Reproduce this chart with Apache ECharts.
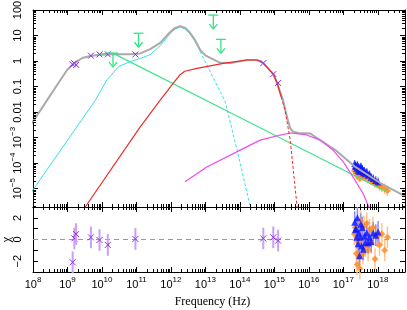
<!DOCTYPE html>
<html><head><meta charset="utf-8">
<script src="https://cdn.jsdelivr.net/npm/echarts@6/dist/echarts.min.js"></script>
<style>html,body{margin:0;padding:0;background:#fff}#c{width:407px;height:310px}</style>
</head><body><div id="c"></div>
<script>
// ===== DATA (log10 frequency in Hz, log10 flux density in mJy, chi residuals) =====
// axis ranges
const nuRange = [8, 18.79];
const fluxRange = [-5.72, 2];
const chiRange = [-3, 3];

// total model (grey)
const totalNu = [7.9, 8.01, 8.41, 8.79, 8.99, 9.20, 9.43, 9.66, 9.95, 10.39, 10.82, 11.11, 11.40, 11.69, 11.98, 12.12, 12.27, 12.42, 12.56, 12.71, 12.85, 13.00, 13.14, 13.43, 13.72, 14.21, 14.50, 14.67, 14.97, 15.08, 15.25, 15.38, 15.46, 15.54, 15.70, 16.04, 16.77, 17.35, 18.07, 18.79];
const totalF  = [-2.57, -2.35, -1.53, -0.75, -0.35, -0.08, 0.12, 0.20, 0.25, 0.27, 0.27, 0.30, 0.47, 0.71, 1.14, 1.30, 1.37, 1.30, 1.10, 0.80, 0.43, 0.22, 0.12, -0.07, -0.08, 0.04, 0.04, -0.07, -0.51, -0.86, -1.53, -2.25, -2.63, -2.77, -2.82, -2.84, -3.49, -4.15, -4.78, -5.29];

// cyan component (rising part solid, falling part dashed)
const cyanNu = [7.9, 8.01, 9.81, 10.14, 10.48, 10.82, 11.11, 11.40, 11.69, 11.98, 12.12, 12.27, 12.42, 12.56, 12.71, 12.85];
const cyanF  = [-5.25, -5.03, -1.53, -0.75, -0.22, -0.02, 0.10, 0.25, 0.60, 1.08, 1.25, 1.33, 1.25, 1.05, 0.75, 0.38];
const cyanTailNu = [12.85, 13.00, 13.29, 13.57, 13.92, 14.30, 14.40];
const cyanTailF  = [0.38, -0.04, -0.82, -1.57, -3.49, -5.71, -6.30];

// green power-law component
const greenNu = [9.95, 10.15, 10.33, 14.00, 18.25];
const greenF  = [0.26, 0.31, 0.30, -2.21, -5.12];

// red component (solid, then dashed cut-off)
const redNu = [9.40, 9.52, 11.11, 11.69, 12.07, 12.25, 12.40, 12.76, 13.52, 14.21, 14.50, 14.67, 14.97, 15.08, 15.20];
const redF  = [-5.95, -5.71, -2.58, -1.53, -0.87, -0.56, -0.40, -0.29, -0.09, 0.04, 0.04, -0.07, -0.51, -0.86, -1.41];
const redTailNu = [15.20, 15.31, 15.46, 15.66, 15.75];
const redTailF  = [-1.41, -1.92, -3.10, -5.71, -6.30];

// magenta component
const magNu = [12.41, 13.04, 14.01, 14.59, 15.17, 15.46, 15.90, 16.33, 16.70, 17.00, 17.28, 17.57, 17.78, 17.85];
const magF  = [-4.73, -4.15, -3.49, -3.10, -2.90, -2.82, -2.88, -3.10, -3.49, -3.95, -4.54, -5.18, -5.84, -6.10];

// radio + optical detections (purple crosses)
const detNu  = [9.15, 9.20, 9.25, 9.68, 9.93, 10.17, 10.97, 14.68, 14.97, 15.11];
const detF   = [-0.13, -0.09, -0.15, 0.21, 0.26, 0.26, 0.26, -0.08, -0.51, -0.86];
const detErr = [0.05, 0.04, 0.04, 0.03, 0.03, 0.03, 0.03, 0.03, 0.03, 0.03];
const detChi = [-2.1, 0.1, 0.5, 0.2, -0.05, -0.5, 0.05, 0.1, 0.2, -0.1];

// upper limits
const ulNu = [10.32, 11.06, 13.23, 13.45];
const ulF  = [0.31, 1.09, 1.80, 0.85];

// X-ray data: blue triangles
const blueNu  = [17.33, 17.35, 17.37, 17.39, 17.41, 17.43, 17.45, 17.47, 17.49, 17.51, 17.53, 17.55, 17.58, 17.61, 17.64, 17.68, 17.72, 17.76, 17.81, 17.87, 17.94, 18.01];
const blueF   = [-4.02, -4.10, -4.12, -4.20, -4.06, -4.28, -4.15, -4.33, -4.20, -4.12, -4.30, -4.20, -4.38, -4.28, -4.42, -4.34, -4.48, -4.44, -4.55, -4.60, -4.68, -4.74];
const blueErr = [0.14, 0.14, 0.13, 0.13, 0.14, 0.13, 0.13, 0.14, 0.13, 0.13, 0.13, 0.13, 0.14, 0.13, 0.14, 0.14, 0.14, 0.15, 0.15, 0.16, 0.17, 0.18];
const blueChi = [1.6, 0.9, 1.0, 0.2, 2.0, -0.4, 0.6, -1.5, 0.2, 1.4, -0.6, 1.1, -0.9, 0.3, -0.3, 0.6, -0.3, 0.2, -0.2, 0.6, 0.4, 0.7];

// X-ray data: orange diamonds
const orNu  = [17.32, 17.35, 17.38, 17.40, 17.43, 17.46, 17.48, 17.50, 17.53, 17.57, 17.60, 17.64, 17.68, 17.72, 17.76, 17.81, 17.86, 17.92, 17.98, 18.05, 18.12, 18.20, 18.28];
const orF   = [-4.30, -4.25, -4.40, -4.50, -4.35, -4.45, -4.60, -4.32, -4.45, -4.55, -4.42, -4.55, -4.50, -4.62, -4.58, -4.70, -4.72, -4.80, -4.82, -4.90, -4.95, -5.00, -5.08];
const orErr = [0.14, 0.14, 0.14, 0.15, 0.14, 0.14, 0.15, 0.14, 0.14, 0.15, 0.14, 0.15, 0.15, 0.15, 0.15, 0.16, 0.16, 0.17, 0.17, 0.18, 0.19, 0.20, 0.21];
const orChi = [0.5, 1.1, -1.3, -2.3, -0.2, -1.6, -2.7, 1.7, 0.0, -1.3, 1.2, -0.6, 1.5, -1.0, 0.9, -0.3, 1.1, -1.8, 0.3, -0.5, 0.5, -1.0, 0.2];

// tick labels
const fluxTickLabels = {'2':'100','1':'10','0':'1','-1':'0.1','-2':'0.01','-3':'10{s|\u22123}','-4':'10{s|\u22124}','-5':'10{s|\u22125}'};
const chiTickLabels = {'2':'2','0':'0','-2':'\u22122'};

// ===== BUILD =====
const C = {
  grey:'#aaaaaa', cyan:'#33e3e3', green:'#3fe38c', red:'#ee2b2b', mag:'#ee4cee',
  ul:'#35e383', purple:'#8f2ff0', purpleErr:'#c9a0f3',
  blue:'#0a14ff', blueErr:'#8c8cff', orange:'#ff8a1c', orangeErr:'#ffc18c'
};
const SANS = 'Liberation Sans', SERIF = 'Liberation Serif';
const zip = (a, b) => a.map((v, i) => [v, b[i]]);
const isInt = v => Math.abs(v - Math.round(v)) < 1e-6;
const supRich = {
  b: {fontFamily: SANS, fontSize: 11, verticalAlign: 'bottom', color: '#000'},
  s: {fontFamily: SANS, fontSize: 8, verticalAlign: 'bottom', padding: [0, 0, 6, 0], color: '#000'}
};

function xAxis(grid, pos, labels) {
  return {
    type: 'value', gridIndex: grid, position: pos, min: nuRange[0], max: nuRange[1],
    minInterval: 1, maxInterval: 1,
    axisLine: {show: true, onZero: false, lineStyle: {color: '#000', width: 1}},
    axisTick: {show: true, inside: true, length: 5, lineStyle: {color: '#000', width: 1}},
    splitLine: {show: false},
    axisLabel: {show: labels, margin: 4,
      formatter: v => isInt(v) ? '{b|10}{s|' + Math.round(v) + '}' : '', rich: supRich}
  };
}
function yAxis(grid, pos, range, labels, map) {
  return {
    type: 'value', gridIndex: grid, position: pos, min: range[0], max: range[1],
    minInterval: 1, maxInterval: 1,
    axisLine: {show: true, onZero: false, lineStyle: {color: '#000', width: 1}},
    axisTick: {show: true, inside: true, length: 5, lineStyle: {color: '#000', width: 1}},
    splitLine: {show: false},
    axisLabel: {show: labels, rotate: 90, margin: 10,
      formatter: v => { const k = String(Math.round(v)); return (isInt(v) && map[k]) ? '{b|' + map[k].replace(/\{s\|/, '}{s|') + (map[k].indexOf('{s|') >= 0 ? '' : '}') : ''; },
      rich: supRich}
  };
}

// minor log ticks
const minorX = [];
for (let n = 8; n <= 18; n++) for (let k = 2; k <= 9; k++) { const v = n + Math.log10(k); if (v < nuRange[1]) minorX.push(v); }
const minorY = [];
for (let n = -6; n <= 1; n++) for (let k = 2; k <= 9; k++) { const v = n + Math.log10(k); if (v > fluxRange[0] && v < fluxRange[1]) minorY.push(v); }

const ln = (x1, y1, x2, y2, stroke, w) => ({type: 'line', shape: {x1, y1, x2, y2}, style: {stroke, lineWidth: w || 1}});
const px = v => Math.round(v) + 0.5;

function minorXSeries(xi, yi, yr) {
  return {type: 'custom', xAxisIndex: xi, yAxisIndex: yi, clip: false, silent: true, z: 5,
    data: minorX.map(v => [v, yr[0]]),
    renderItem: (p, api) => {
      const b = api.coord([api.value(0), yr[0]]), t = api.coord([api.value(0), yr[1]]);
      const x = px(b[0]);
      return {type: 'group', children: [ln(x, b[1], x, b[1] - 3, '#000'), ln(x, t[1], x, t[1] + 3, '#000')]};
    }};
}
function minorYSeries(xi, yi) {
  return {type: 'custom', xAxisIndex: xi, yAxisIndex: yi, clip: false, silent: true, z: 5,
    data: minorY.map(v => [nuRange[0], v]),
    renderItem: (p, api) => {
      const l = api.coord([nuRange[0], api.value(1)]), r = api.coord([nuRange[1], api.value(1)]);
      const y = px(l[1]);
      return {type: 'group', children: [ln(l[0], y, l[0] + 3, y, '#000'), ln(r[0], y, r[0] - 3, y, '#000')]};
    }};
}
function curve(nu, f, color, width, dashed) {
  return {type: 'line', xAxisIndex: 0, yAxisIndex: 0, data: zip(nu, f), showSymbol: false, symbol: 'none',
    smooth: false, silent: true, z: 3,
    lineStyle: {color, width, type: dashed ? [3, 2] : 'solid', join: 'round'}};
}
function errBars(xi, yi, nu, val, err, color, w) {
  return {type: 'custom', xAxisIndex: xi, yAxisIndex: yi, silent: true, z: 2,
    data: nu.map((v, i) => [v, val[i], err[i]]),
    renderItem: (p, api) => {
      const lo = api.coord([api.value(0), api.value(1) - api.value(2)]);
      const hi = api.coord([api.value(0), api.value(1) + api.value(2)]);
      return ln(lo[0], lo[1], hi[0], hi[1], color, w);
    }};
}
function crosses(xi, yi, nu, val, err) {
  return {type: 'custom', xAxisIndex: xi, yAxisIndex: yi, silent: true, z: 6,
    data: nu.map((v, i) => [v, val[i], err[i]]),
    renderItem: (p, api) => {
      const c = api.coord([api.value(0), api.value(1)]);
      const lo = api.coord([api.value(0), api.value(1) - api.value(2)]);
      const hi = api.coord([api.value(0), api.value(1) + api.value(2)]);
      const s = 3;
      return {type: 'group', children: [
        ln(c[0], lo[1], c[0], hi[1], C.purpleErr, 2),
        ln(c[0] - s, c[1] - s, c[0] + s, c[1] + s, C.purple, 1),
        ln(c[0] - s, c[1] + s, c[0] + s, c[1] - s, C.purple, 1)
      ]};
    }};
}
const ones = a => a.map(() => 1);

const option = {
  animation: false,
  backgroundColor: '#fff',
  grid: [
    {left: 33, right: 2, top: 10, height: 197, outerBoundsMode: 'none', containLabel: false},
    {left: 33, right: 2, top: 207, height: 65, outerBoundsMode: 'none', containLabel: false}
  ],
  xAxis: [
    xAxis(0, 'bottom', false), xAxis(0, 'top', false),
    Object.assign(xAxis(1, 'bottom', true), {name: 'Frequency (Hz)', nameLocation: 'middle', nameGap: 24, nameMoveOverlap: false,
      nameTextStyle: {fontFamily: SERIF, fontSize: 12, color: '#000', padding: [0, 13, 0, 0]}}),
    xAxis(1, 'top', false)
  ],
  yAxis: [
    Object.assign(yAxis(0, 'left', fluxRange, true, fluxTickLabels), {name: 'I{sub|\u03bd} (mJy)', nameLocation: 'middle', nameGap: 32, nameMoveOverlap: false,
      nameTextStyle: {fontFamily: SERIF, fontSize: 12, color: '#000',
        rich: {sub: {fontFamily: SERIF, fontSize: 9, verticalAlign: 'top', padding: [5, 0, 0, 0]}}}}),
    yAxis(0, 'right', fluxRange, false, fluxTickLabels),
    Object.assign(yAxis(1, 'left', chiRange, true, chiTickLabels), {name: '\u03c7', nameLocation: 'middle', nameGap: 20, nameMoveOverlap: false,
      nameTextStyle: {fontFamily: SERIF, fontSize: 13, color: '#000'}}),
    yAxis(1, 'right', chiRange, false, chiTickLabels)
  ],
  series: [
    errBars(0, 0, orNu, orF, orErr, C.orangeErr, 1.5),
    errBars(0, 0, blueNu, blueF, blueErr, C.blueErr, 1.5),
    {type: 'scatter', xAxisIndex: 0, yAxisIndex: 0, data: zip(orNu, orF), symbol: 'diamond', symbolSize: 7,
      itemStyle: {color: C.orange}, silent: true, z: 2},
    {type: 'scatter', xAxisIndex: 0, yAxisIndex: 0, data: zip(blueNu, blueF), symbol: 'triangle', symbolSize: 7,
      itemStyle: {color: C.blue}, silent: true, z: 2},
    curve(cyanNu, cyanF, C.cyan, 1, false),
    curve(totalNu, totalF, C.grey, 2, false),
    curve(cyanTailNu, cyanTailF, C.cyan, 1, true),
    curve(greenNu, greenF, C.green, 1.2, false),
    curve(magNu, magF, C.mag, 1.2, false),
    curve(redNu, redF, C.red, 1.2, false),
    curve(redTailNu, redTailF, C.red, 1, true),
    crosses(0, 0, detNu, detF, detErr),
    {type: 'custom', xAxisIndex: 0, yAxisIndex: 0, silent: true, z: 6,
      data: zip(ulNu, ulF),
      renderItem: (p, api) => {
        const c = api.coord([api.value(0), api.value(1)]);
        const L = 14, w = 5, h = 5;
        return {type: 'group', children: [
          ln(c[0] - w, c[1], c[0] + w, c[1], C.ul, 1.3),
          ln(c[0], c[1], c[0], c[1] + L, C.ul, 1.3),
          ln(c[0] - 4, c[1] + L - h, c[0], c[1] + L, C.ul, 1.3),
          ln(c[0] + 4, c[1] + L - h, c[0], c[1] + L, C.ul, 1.3)
        ]};
      }},
    {type: 'line', xAxisIndex: 2, yAxisIndex: 2, data: [[nuRange[0], 0], [nuRange[1], 0]], showSymbol: false, symbol: 'none',
      silent: true, z: 1, lineStyle: {color: '#999', width: 1, type: [5, 4]}},
    errBars(2, 2, orNu, orChi, ones(orNu), C.orangeErr, 1.5),
    errBars(2, 2, blueNu, blueChi, ones(blueNu), C.blueErr, 1.5),
    {type: 'scatter', xAxisIndex: 2, yAxisIndex: 2, data: zip(orNu, orChi), symbol: 'diamond', symbolSize: 7,
      itemStyle: {color: C.orange}, silent: true, z: 3},
    {type: 'scatter', xAxisIndex: 2, yAxisIndex: 2, data: zip(blueNu, blueChi), symbol: 'triangle', symbolSize: 7,
      itemStyle: {color: C.blue}, silent: true, z: 3},
    crosses(2, 2, detNu, detChi, ones(detNu)),
    minorXSeries(0, 0, fluxRange),
    minorYSeries(0, 0),
    minorXSeries(2, 2, chiRange)
  ]
};
const chart = echarts.init(document.getElementById('c'), null, {renderer: 'canvas'});
chart.setOption(option);
</script>
</body></html>
